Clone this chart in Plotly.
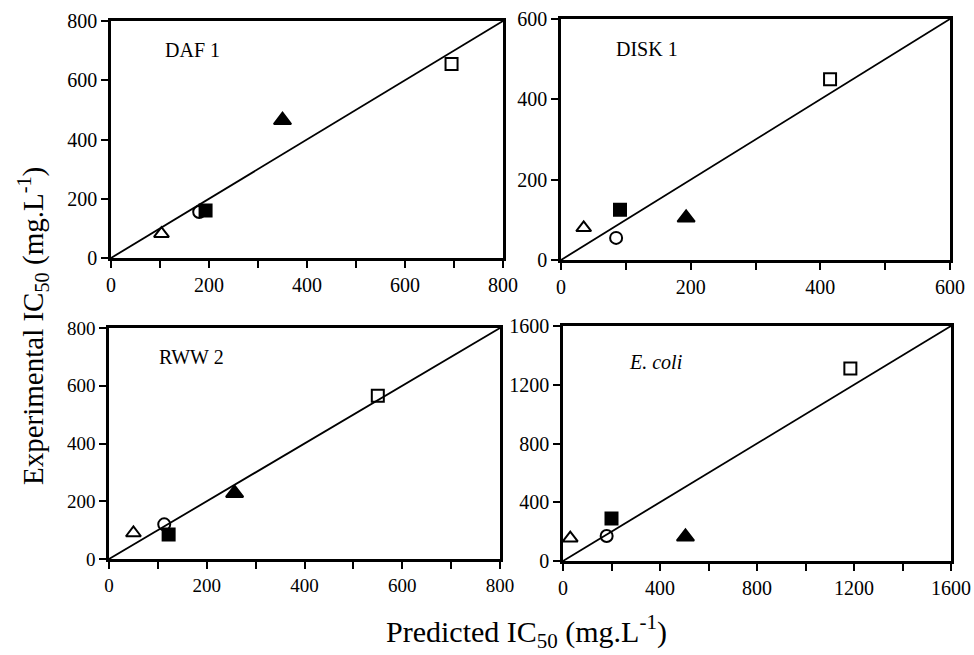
import plotly.graph_objects as go

# Predicted vs experimental IC50 (mg/L) for four test systems
panels = ["DAF 1", "DISK 1", "RWW 2", "<i>E. coli</i>"]

# point order: open triangle, open circle, filled square, filled triangle, open square
daf1_pred = [103, 180, 193, 350, 695]
daf1_exp = [82, 155, 160, 465, 655]

disk1_pred = [35, 85, 91, 193, 415]
disk1_exp = [80, 55, 125, 105, 450]

rww2_pred = [50, 113, 122, 257, 550]
rww2_exp = [90, 120, 85, 228, 565]

ecoli_pred = [30, 180, 200, 505, 1185]
ecoli_exp = [155, 170, 290, 165, 1310]

# labelled major ticks per panel
ticks_800 = [0, 200, 400, 600, 800]
ticks_600 = [0, 200, 400, 600]
ticks_1600 = [0, 400, 800, 1200, 1600]
panel_ticks = [ticks_800, ticks_600, ticks_800, ticks_1600]
minor_step = [100, 100, 100, 200]

symbols = ["triangle-up-open", "circle-open", "square", "triangle-up", "square-open"]
sizes = [13, 12, 12, 15, 12]

W, H = 974, 655
# plot boxes in pixels: left, right, top, bottom
boxes = [(111, 503, 21, 258), (561, 950, 19, 260), (109, 500, 328, 559), (563, 951, 326, 561)]
label_pos = [(106, 702), (82, 525), (98, 700), (264, 1355)]
tick_sizes = [20, 20, 19, 20]

series = [(daf1_pred, daf1_exp), (disk1_pred, disk1_exp),
          (rww2_pred, rww2_exp), (ecoli_pred, ecoli_exp)]

FONT = "Liberation Serif"

fig = go.Figure()
layout = dict(template="none", width=W, height=H, margin=dict(l=0, r=0, t=0, b=0),
              paper_bgcolor="white", plot_bgcolor="white", showlegend=False,
              font=dict(family=FONT, color="black", size=19))
annotations = []

for i, (xs, ys) in enumerate(series):
    n = i + 1
    xa = "x" if n == 1 else f"x{n}"
    ya = "y" if n == 1 else f"y{n}"
    tv = panel_ticks[i]
    top = tv[-1]
    # 1:1 line
    fig.add_trace(go.Scatter(x=[0, top], y=[0, top], mode="lines",
                             line=dict(color="black", width=1.8),
                             xaxis=xa, yaxis=ya, hoverinfo="skip"))
    for j in range(len(xs)):
        fig.add_trace(go.Scatter(x=[xs[j]], y=[ys[j]], mode="markers",
                                 marker=dict(symbol=symbols[j], size=sizes[j], color="black",
                                             opacity=1, line=dict(color="black", width=2)),
                                 cliponaxis=False, xaxis=xa, yaxis=ya))
    l, r, t, b = boxes[i]
    tick_font = dict(family=FONT, size=tick_sizes[i], color="black")
    common = dict(showline=True, linewidth=2.5, linecolor="black", mirror=True,
                  showgrid=False, zeroline=False, ticks="outside", ticklen=7,
                  tickwidth=2, tickcolor="black", range=[0, top], tickfont=tick_font,
                  tickmode="array", tickvals=tv, ticktext=[str(v) for v in tv],
                  automargin=False)
    layout["xaxis" if n == 1 else f"xaxis{n}"] = dict(
        common, domain=[l / W, r / W], anchor=ya,
        minor=dict(ticks="outside", tickmode="linear", tick0=0, dtick=minor_step[i],
                   ticklen=7, tickwidth=2, tickcolor="black", showgrid=False))
    layout["yaxis" if n == 1 else f"yaxis{n}"] = dict(
        common, domain=[1 - b / H, 1 - t / H], anchor=xa)
    annotations.append(dict(text=panels[i], x=label_pos[i][0], y=label_pos[i][1],
                            xref=xa, yref=ya, xanchor="left", yanchor="middle",
                            showarrow=False, font=dict(family=FONT, size=20, color="black")))

annotations.append(dict(text="Predicted IC<sub>50</sub> (mg.L<sup>-1</sup>)",
                        x=526 / W, y=1 - 631 / H, xref="paper", yref="paper",
                        xanchor="center", yanchor="middle", showarrow=False,
                        font=dict(family=FONT, size=30, color="black")))
annotations.append(dict(text="Experimental IC<sub>50</sub> (mg.L<sup>-1</sup>)",
                        x=33 / W, y=1 - 326 / H, xref="paper", yref="paper",
                        xanchor="center", yanchor="middle", textangle=-90, showarrow=False,
                        font=dict(family=FONT, size=29, color="black")))
layout["annotations"] = annotations
fig.update_layout(**layout)
fig.write_html("out.html")
